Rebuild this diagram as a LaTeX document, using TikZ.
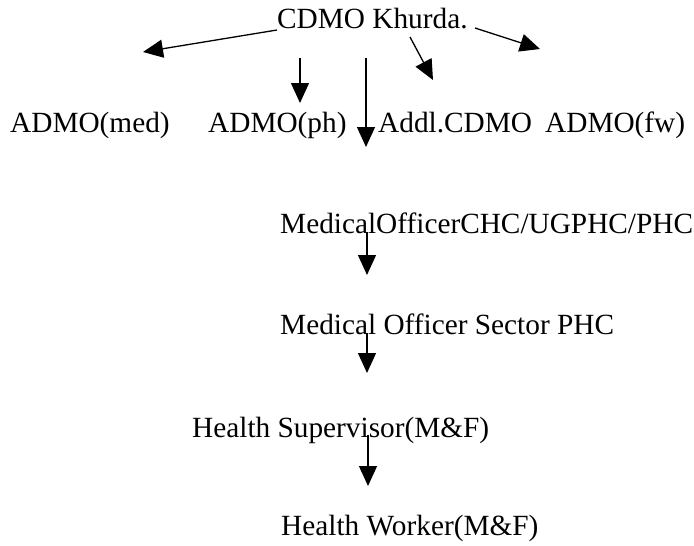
\documentclass[tikz,border=0pt]{standalone}
\usepackage{fontspec}
\setmainfont{Liberation Serif}
\usetikzlibrary{arrows.meta,calc}
\begin{document}
\begin{tikzpicture}[x=1pt,y=-1pt,
  lbl/.style={anchor=base west,inner sep=0pt,font=\fontsize{29.3}{32}\selectfont},
  link/.style={line width=1.3pt,-{Triangle[length=20pt,width=18pt]}}]
\useasboundingbox (0,0) rectangle (694,546);

% hierarchy labels
\node[lbl] (cdmo) at (277,28)  {CDMO Khurda.};
\node[lbl] (med)  at (10,132)  {ADMO(med)};
\node[lbl] (ph)   at (208,132) {ADMO(ph)};
\node[lbl] (addl) at (378,132) {Addl.CDMO};
\node[lbl] (fw)   at (545,132) {ADMO(fw)};
\node[lbl] (mo1)  at (280,233) {MedicalOfficerCHC/UGPHC/PHC};
\node[lbl] (mo2)  at (280,334) {Medical Officer Sector PHC};
\node[lbl] (hs)   at (192,437) {Health Supervisor(M\&F)};
\node[lbl] (hw)   at (281,535) {Health Worker(M\&F)};

% arrow tips, placed next to the labels they point at
\coordinate (tmed)  at ($(med.base west)+(133,-80)$);
\coordinate (tph)   at ($(ph.base west)+(92,-29)$);
\coordinate (tmo1)  at ($(mo1.base west)+(86,-86)$);
\coordinate (taddl) at ($(addl.base west)+(55,-52)$);
\coordinate (tfw)   at ($(fw.base west)+(-5,-83)$);
\coordinate (tmo2)  at ($(mo2.base west)+(87,-59)$);
\coordinate (ths)   at ($(hs.base west)+(175,-64)$);
\coordinate (thw)   at ($(hw.base west)+(87,-49)$);

% connectors
\draw[link] ($(cdmo.base west)+(0,2)$)   -- (tmed);
\draw[link] ($(cdmo.base west)+(23,30)$) -- (tph);
\draw[link] ($(cdmo.base west)+(89,30)$) -- (tmo1);
\draw[link] ($(cdmo.base west)+(133,9)$) -- (taddl);
\draw[link] ($(cdmo.base west)+(198,0)$) -- (tfw);
\draw[link] ($(mo1.base west)+(87,-1)$)  -- (tmo2);
\draw[link] ($(mo2.base west)+(87,-1)$)  -- (ths);
\draw[link] ($(hs.base west)+(176,-2)$)  -- (thw);
\end{tikzpicture}
\end{document}
